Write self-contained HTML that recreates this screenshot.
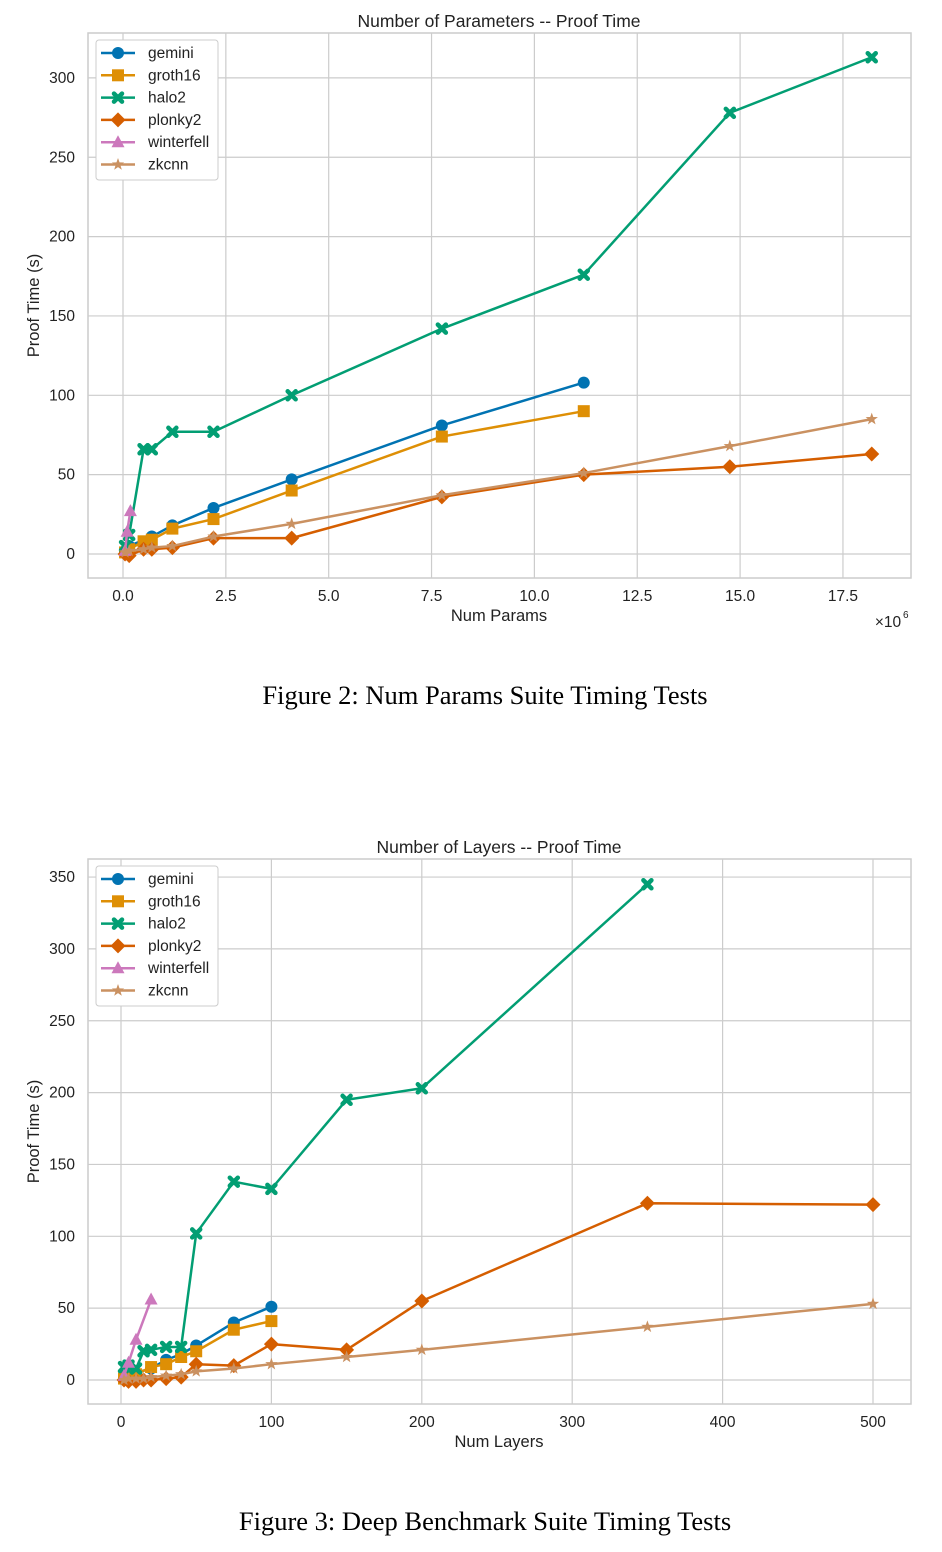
<!DOCTYPE html>
<html><head><meta charset="utf-8"><style>
body{margin:0;background:#fff;width:942px;height:1552px;overflow:hidden;font-family:"Liberation Sans",sans-serif}
.cap{position:absolute;left:0;width:970px;text-align:center;font-family:"Liberation Serif",serif;font-size:26.5px;color:#000}
</style></head><body>
<svg id="svg" width="942" height="1552" style="position:absolute;left:0;top:0"></svg>
<div class="cap" style="top:680px">Figure 2: Num Params Suite Timing Tests</div>
<div class="cap" style="top:1506px">Figure 3: Deep Benchmark Suite Timing Tests</div>
<script>
// Chart 1 data (x in millions)
const c1_gemini_x=[0.05,0.15,0.7,1.2,2.2,4.1,7.75,11.2];
const c1_gemini_y=[2,5,11,18,29,47,81,108];
const c1_groth16_x=[0.05,0.15,0.5,0.7,1.2,2.2,4.1,7.75,11.2];
const c1_groth16_y=[1,3,8,9,16,22,40,74,90];
const c1_halo2_x=[0.05,0.15,0.5,0.7,1.2,2.2,4.1,7.75,11.2,14.75,18.2];
const c1_halo2_y=[5,12,66,66,77,77,100,142,176,278,313];
const c1_plonky2_x=[0.05,0.15,0.5,0.7,1.2,2.2,4.1,7.75,11.2,14.75,18.2];
const c1_plonky2_y=[0,-1,3,3,4,10,10,36,50,55,63];
const c1_winterfell_x=[0.05,0.1,0.18];
const c1_winterfell_y=[2,14,27];
const c1_zkcnn_x=[0.05,0.15,0.5,0.7,1.2,2.2,4.1,7.75,11.2,14.75,18.2];
const c1_zkcnn_y=[1,2,3,4,5,11,19,37,51,68,85];
const c1_xticks=[0,2.5,5,7.5,10,12.5,15,17.5];
const c1_xlabels=["0.0","2.5","5.0","7.5","10.0","12.5","15.0","17.5"];
const c1_yticks=[0,50,100,150,200,250,300];
// Chart 2 data
const c2_gemini_x=[2,5,10,20,30,40,50,75,100];
const c2_gemini_y=[2,3,5,8,14,18,24,40,51];
const c2_groth16_x=[2,5,10,20,30,40,50,75,100];
const c2_groth16_y=[1,2,4,9,11,16,20,35,41];
const c2_halo2_x=[2,5,10,15,20,30,40,50,75,100,150,200,350];
const c2_halo2_y=[9,10,8,20,21,23,23,102,138,133,195,203,345];
const c2_plonky2_x=[2,5,10,15,20,30,40,50,75,100,150,200,350,500];
const c2_plonky2_y=[0,-1,-1,0,0,1,2,11,10,25,21,55,123,122];
const c2_winterfell_x=[2,5,10,20];
const c2_winterfell_y=[3,12,28,56];
const c2_zkcnn_x=[2,5,10,15,20,30,40,50,75,100,150,200,350,500];
const c2_zkcnn_y=[0,1,1,1,2,3,4,6,8,11,16,21,37,53];
const c2_xticks=[0,100,200,300,400,500];
const c2_xlabels=["0","100","200","300","400","500"];
const c2_yticks=[0,50,100,150,200,250,300,350];
const names=["gemini","groth16","halo2","plonky2","winterfell","zkcnn"];

const colors={gemini:"#0173b2",groth16:"#de8f05",halo2:"#029e73",plonky2:"#d55e00",winterfell:"#cc78bc",zkcnn:"#ca9161"};
const NS="http://www.w3.org/2000/svg";
const svg=document.getElementById('svg');
function mk(tag,attrs,parent){const e=document.createElementNS(NS,tag);for(const k in attrs)e.setAttribute(k,attrs[k]);(parent||svg).appendChild(e);return e;}
function txt(s,x,y,size,anchor,parent,extra){const t=mk('text',Object.assign({x:x,y:y,'font-size':size,'text-anchor':anchor||'middle',fill:'#222','font-family':'Liberation Sans, sans-serif'},extra||{}),parent);t.textContent=s;return t;}
function marker(g,name,x,y,c){
  let e;
  if(name==='gemini'){e=mk('circle',{cx:x,cy:y,r:6,fill:c},g);}
  else if(name==='groth16'){e=mk('rect',{x:x-6,y:y-6,width:12,height:12,fill:c},g);}
  else if(name==='halo2'){const s=4;e=mk('path',{d:`M${x-s},${y-s}L${x+s},${y+s}M${x-s},${y+s}L${x+s},${y-s}`,stroke:c,'stroke-width':4.5,'stroke-linecap':'round'},g);}
  else if(name==='plonky2'){const s=7.5;e=mk('path',{d:`M${x},${y-s}L${x+s},${y}L${x},${y+s}L${x-s},${y}Z`,fill:c},g);}
  else if(name==='winterfell'){e=mk('path',{d:`M${x},${y-7}L${x+6.5},${y+5}L${x-6.5},${y+5}Z`,fill:c},g);}
  else {let p='';for(let i=0;i<10;i++){const r=i%2?2.6:6.5;const a=-Math.PI/2+i*Math.PI/5;p+=(i?'L':'M')+(x+r*Math.cos(a)).toFixed(2)+','+(y+r*Math.sin(a)).toFixed(2);}e=mk('path',{d:p+'Z',fill:c},g);}
  
  
}
function chart(cfg){
  const g=mk('g',{});
  
  
  const L=88,R=911,T=cfg.top,B=cfg.top+545;
  const sx=v=>cfg.x0+v*cfg.kx, sy=v=>cfg.y0-v*cfg.ky;
  cfg.xticks.forEach((v,i)=>{mk('line',{x1:sx(v),x2:sx(v),y1:T,y2:B,stroke:'#cccccc','stroke-width':1.2},g);const t=txt(cfg.xlabels[i],sx(v),B+23,15.5,'middle',g);});
  cfg.yticks.forEach(v=>{mk('line',{x1:L,x2:R,y1:sy(v),y2:sy(v),stroke:'#cccccc','stroke-width':1.2},g);const t=txt(String(v),75,sy(v)+5,15.5,'end',g);});
  const fr=mk('rect',{x:L,y:T,width:R-L,height:B-T,fill:'none',stroke:'#cccccc','stroke-width':1.5},g);
  
  names.forEach(n=>{
    const xs=cfg.data[n][0],ys=cfg.data[n][1],c=colors[n];
    const sg=mk('g',{},g);
    
    
    mk('polyline',{points:xs.map((x,i)=>sx(x)+','+sy(ys[i])).join(' '),fill:'none',stroke:c,'stroke-width':2.5,'stroke-linejoin':'round'},sg);
    xs.forEach((x,i)=>marker(sg,n,sx(x),sy(ys[i]),c));
  });
  const tt=txt(cfg.title,499,T-6,17.5,'middle',g);
  const xl=txt(cfg.xlabel,499,B+43,16.5,'middle',g);
  const yl=txt('Proof Time (s)',0,0,16.5,'middle',g,{transform:`translate(39,${(T+B)/2}) rotate(-90)`});
  const lg=mk('g',{},g);
  
  
  mk('rect',{x:96,y:T+7,width:122,height:140,rx:3,fill:'#fff',stroke:'#cccccc','stroke-width':1},lg);
  names.forEach((n,i)=>{
    const y=T+20+i*22.3;
    const eg=mk('g',{},lg);
    
    
    mk('line',{x1:101,x2:135,y1:y,y2:y,stroke:colors[n],'stroke-width':2.5},eg);
    marker(eg,n,118,y,colors[n]);
    txt(n,148,y+5,15.5,'start',eg);
  });
  return g;
}
chart({id:'chart-num-params',top:33,x0:123,kx:41.14,y0:554,ky:1.587,xticks:c1_xticks,xlabels:c1_xlabels,yticks:c1_yticks,
  title:'Number of Parameters -- Proof Time',xlabel:'Num Params',
  data:{gemini:[c1_gemini_x,c1_gemini_y],groth16:[c1_groth16_x,c1_groth16_y],halo2:[c1_halo2_x,c1_halo2_y],plonky2:[c1_plonky2_x,c1_plonky2_y],winterfell:[c1_winterfell_x,c1_winterfell_y],zkcnn:[c1_zkcnn_x,c1_zkcnn_y]}});
const ex=txt('×10',888,627,15.5,'middle');


const ex2=txt('6',903,618,10,'start');


chart({id:'chart-num-layers',top:859,x0:121,kx:1.504,y0:1380,ky:1.437,xticks:c2_xticks,xlabels:c2_xlabels,yticks:c2_yticks,
  title:'Number of Layers -- Proof Time',xlabel:'Num Layers',
  data:{gemini:[c2_gemini_x,c2_gemini_y],groth16:[c2_groth16_x,c2_groth16_y],halo2:[c2_halo2_x,c2_halo2_y],plonky2:[c2_plonky2_x,c2_plonky2_y],winterfell:[c2_winterfell_x,c2_winterfell_y],zkcnn:[c2_zkcnn_x,c2_zkcnn_y]}});
</script>
</body></html>
